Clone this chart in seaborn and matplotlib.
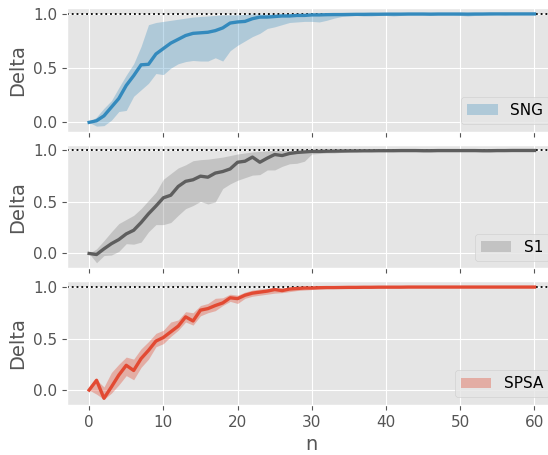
import numpy as np
import pandas as pd
import matplotlib
matplotlib.use("Agg")
import matplotlib.pyplot as plt
import seaborn as sns

# iteration index
n = list(range(61))

# SNG: mean delta with lower/upper band
sng_mean = [0.0, 0.015, 0.06, 0.14, 0.22, 0.34, 0.43, 0.53, 0.535, 0.63,
            0.68, 0.73, 0.765, 0.80, 0.82, 0.825, 0.83, 0.845, 0.87, 0.915,
            0.925, 0.93, 0.955, 0.97, 0.97, 0.975, 0.98, 0.98, 0.985, 0.985,
            0.99, 0.99, 0.992, 0.993, 0.993, 0.994, 0.995, 0.995, 0.996, 0.996,
            0.997, 0.997, 0.997, 0.998, 0.998, 0.998, 0.997, 0.998, 0.998, 0.998,
            0.998, 0.997, 0.998, 0.998, 0.999, 0.999, 0.999, 0.999, 0.999, 0.999,
            0.999]
sng_upper = [0.0, 0.05, 0.13, 0.2, 0.32, 0.435, 0.54, 0.70, 0.90, 0.92,
             0.93, 0.94, 0.95, 0.96, 0.97, 0.975, 0.98, 0.985, 0.99, 0.99,
             0.99, 0.995, 1.0, 1.0, 1.0, 1.0, 1.0, 1.0, 1.0, 1.0,
             1.0, 1.0, 1.0, 1.0, 1.0, 1.0, 1.0, 1.0, 1.0, 1.0,
             1.0, 1.0, 1.0, 1.0, 1.0, 1.0, 1.0, 1.0, 1.0, 1.0,
             1.0, 1.0, 1.0, 1.0, 1.0, 1.0, 1.0, 1.0, 1.0, 1.0,
             1.0]
sng_lower = [0.0, -0.035, -0.03, 0.02, 0.10, 0.11, 0.24, 0.30, 0.36, 0.45,
             0.44, 0.50, 0.54, 0.56, 0.57, 0.565, 0.565, 0.595, 0.565, 0.66,
             0.71, 0.75, 0.79, 0.82, 0.865, 0.88, 0.90, 0.92, 0.925, 0.93,
             0.93, 0.925, 0.94, 0.96, 0.975, 0.98, 0.985, 0.98, 0.98, 0.985,
             0.985, 0.98, 0.985, 0.99, 0.99, 0.99, 0.985, 0.99, 0.99, 0.99,
             0.985, 0.98, 0.985, 0.99, 0.99, 0.995, 0.99, 0.995, 0.995, 0.995,
             0.995]

# S1
s1_mean = [0.0, -0.01, 0.045, 0.095, 0.135, 0.19, 0.225, 0.30, 0.385, 0.46,
           0.54, 0.565, 0.65, 0.70, 0.715, 0.75, 0.74, 0.78, 0.795, 0.82,
           0.885, 0.895, 0.935, 0.885, 0.925, 0.96, 0.95, 0.97, 0.98, 0.985,
           0.99, 0.99, 0.992, 0.993, 0.994, 0.995, 0.995, 0.996, 0.996, 0.997,
           0.997, 0.997, 0.998, 0.998, 0.998, 0.997, 0.997, 0.998, 0.998, 0.998,
           0.998, 0.998, 0.998, 0.997, 0.997, 0.998, 0.998, 0.999, 0.999, 0.999,
           0.999]
s1_upper = [0.0, 0.045, 0.125, 0.21, 0.29, 0.33, 0.37, 0.435, 0.515, 0.595,
            0.72, 0.775, 0.83, 0.86, 0.90, 0.91, 0.915, 0.925, 0.935, 0.95,
            0.965, 0.975, 0.985, 0.99, 0.995, 1.0, 1.0, 1.0, 1.0, 1.0,
            1.0, 1.0, 1.0, 1.0, 1.0, 1.0, 1.0, 1.0, 1.0, 1.0,
            1.0, 1.0, 1.0, 1.0, 1.0, 1.0, 1.0, 1.0, 1.0, 1.0,
            1.0, 1.0, 1.0, 1.0, 1.0, 1.0, 1.0, 1.0, 1.0, 1.0,
            1.0]
s1_lower = [0.0, -0.09, -0.02, -0.015, 0.02, 0.095, 0.09, 0.11, 0.21, 0.28,
            0.28, 0.30, 0.37, 0.435, 0.465, 0.505, 0.48, 0.50, 0.63, 0.675,
            0.71, 0.735, 0.76, 0.765, 0.81, 0.81, 0.845, 0.87, 0.875, 0.895,
            0.965, 0.97, 0.975, 0.975, 0.98, 0.985, 0.99, 0.99, 0.99, 0.99,
            0.99, 0.99, 0.99, 0.99, 0.99, 0.985, 0.985, 0.99, 0.99, 0.99,
            0.99, 0.99, 0.99, 0.985, 0.985, 0.99, 0.99, 0.99, 0.99, 0.99,
            0.99]

# SPSA
spsa_mean = [0.0, 0.095, -0.08, 0.03, 0.145, 0.24, 0.19, 0.305, 0.385, 0.475,
             0.51, 0.565, 0.62, 0.71, 0.67, 0.775, 0.79, 0.82, 0.845, 0.895,
             0.887, 0.92, 0.94, 0.95, 0.96, 0.975, 0.965, 0.98, 0.985, 0.99,
             0.99, 0.993, 0.994, 0.994, 0.995, 0.996, 0.996, 0.997, 0.997, 0.998,
             0.998, 0.998, 0.998, 0.999, 0.999, 0.999, 0.999, 0.999, 0.999, 0.999,
             0.999, 0.999, 0.999, 0.999, 0.999, 0.999, 0.999, 0.999, 0.999, 0.999,
             0.999]
spsa_upper = [0.0, 0.10, 0.03, 0.17, 0.25, 0.32, 0.30, 0.40, 0.47, 0.55,
              0.58, 0.66, 0.68, 0.76, 0.75, 0.82, 0.84, 0.89, 0.895, 0.93,
              0.92, 0.95, 0.97, 0.98, 0.985, 0.99, 0.99, 0.995, 1.0, 1.0,
              1.0, 1.0, 1.0, 1.0, 1.0, 1.0, 1.0, 1.0, 1.0, 1.0,
              1.0, 1.0, 1.0, 1.0, 1.0, 1.0, 1.0, 1.0, 1.0, 1.0,
              1.0, 1.0, 1.0, 1.0, 1.0, 1.0, 1.0, 1.0, 1.0, 1.0,
              1.0]
spsa_lower = [0.0, -0.04, -0.09, -0.03, 0.05, 0.14, 0.10, 0.22, 0.30, 0.42,
              0.45, 0.52, 0.58, 0.66, 0.63, 0.72, 0.75, 0.77, 0.82, 0.86,
              0.84, 0.89, 0.91, 0.92, 0.93, 0.94, 0.945, 0.955, 0.965, 0.97,
              0.975, 0.98, 0.985, 0.985, 0.99, 0.99, 0.99, 0.995, 0.995, 0.995,
              0.995, 0.995, 0.995, 0.995, 0.995, 0.995, 0.995, 0.995, 0.995, 0.995,
              0.995, 0.995, 0.995, 0.995, 0.995, 0.995, 0.995, 0.995, 0.995, 0.995,
              0.995]

methods = ["SNG", "S1", "SPSA"]
line_colors = ["#348ABD", "#5E5E5E", "#E24A33"]
fill_colors = ["#348ABD", "#777777", "#E24A33"]
fill_alpha = [0.3, 0.3, 0.36]

series = {
    "SNG": (sng_mean, sng_lower, sng_upper),
    "S1": (s1_mean, s1_lower, s1_upper),
    "SPSA": (spsa_mean, spsa_lower, spsa_upper),
}

plt.style.use("ggplot")
plt.rcParams["font.family"] = ["DejaVu Sans"]

fig, axes = plt.subplots(3, 1, sharex=True, figsize=(5.48, 4.55), dpi=100)
fig.subplots_adjust(left=0.122, right=1.016, top=0.982, bottom=0.110, hspace=0.105)

for ax, name, lc, fc, fa in zip(axes, methods, line_colors, fill_colors, fill_alpha):
    mean, lower, upper = series[name]
    df = pd.DataFrame({"n": n, "Delta": mean})
    ax.fill_between(n, lower, upper, color=fc, alpha=fa, linewidth=0,
                    label=name, zorder=1)
    ax.axhline(1.0, color="black", linestyle=":", linewidth=1.3, zorder=2)
    sns.lineplot(data=df, x="n", y="Delta", ax=ax, color=lc, linewidth=2.4,
                 legend=False, zorder=3)
    ax.set_ylabel("Delta", fontsize=14, color="#555555")
    ax.set_yticks([0.0, 0.5, 1.0])
    ax.tick_params(labelsize=11, colors="#555555", labelcolor="#555555")
    ax.legend(loc="lower right", fontsize=11)
    ax.set_xlabel("")

axes[-1].set_xticks([0, 10, 20, 30, 40, 50, 60])
axes[-1].set_xlabel("n", fontsize=14, color="#555555")

fig.savefig("out.png", dpi=100)
